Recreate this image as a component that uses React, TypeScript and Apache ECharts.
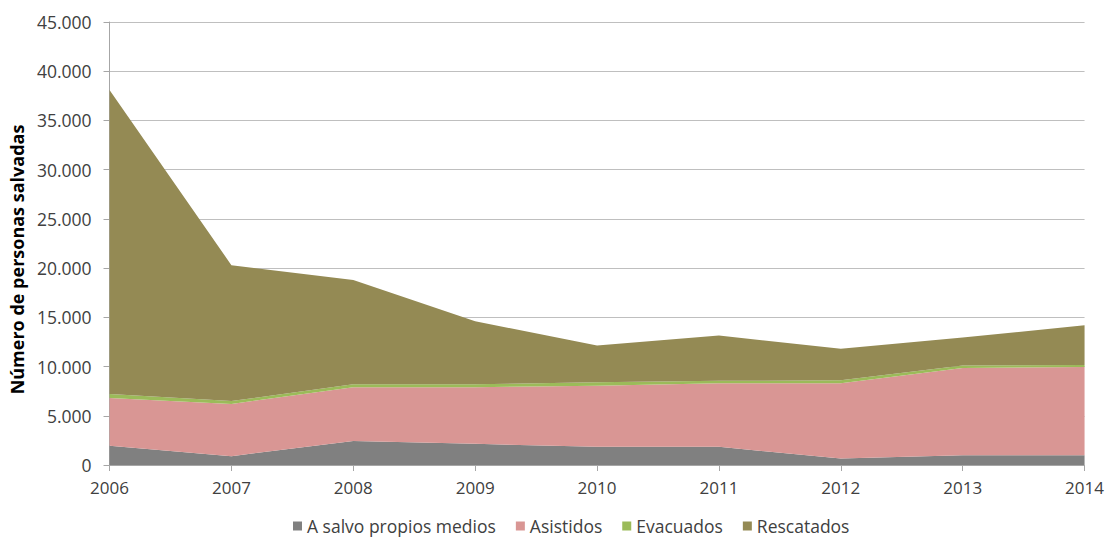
import React, { useEffect, useRef } from "react";
import * as echarts from "echarts";

const years = ["2006", "2007", "2008", "2009", "2010", "2011", "2012", "2013", "2014"];
const aSalvo = [1950, 900, 2450, 2150, 1850, 1850, 650, 1000, 1000];
const asistidos = [4850, 5300, 5450, 5750, 6200, 6450, 7650, 8850, 8950];
const evacuados = [400, 300, 300, 300, 350, 250, 300, 250, 200];
const rescatados = [30900, 13800, 10600, 6400, 3750, 4600, 3200, 2850, 4050];

const names = ["A salvo propios medios", "Asistidos", "Evacuados", "Rescatados"];
const colors = ["#808080", "#d99694", "#9bbb59", "#948a54"];
const seriesData = [aSalvo, asistidos, evacuados, rescatados];

const FONT = "'Open Sans', Lato, sans-serif";

function fmt(v: number): string {
  return String(v).replace(/\B(?=(\d{3})+(?!\d))/g, ".");
}

export default function App() {
  const ref = useRef<HTMLDivElement>(null);
  useEffect(() => {
    if (!ref.current) return;
    const chart = echarts.init(ref.current, null, { renderer: "svg" });
    chart.setOption({
      animation: false,
      textStyle: { fontFamily: FONT },
      grid: { left: 107, right: 21, top: 22, bottom: 74 },
      legend: {
        top: 512,
        left: 288,
        itemWidth: 9,
        itemHeight: 9,
        itemGap: 20,
        icon: "rect",
        textStyle: { fontSize: 17.5, color: "#404040", fontFamily: FONT },
        data: names,
      },
      xAxis: {
        type: "category",
        data: years,
        boundaryGap: false,
        axisLine: { lineStyle: { color: "#a6a6a6" } },
        axisTick: { alignWithLabel: true, length: 6, lineStyle: { color: "#a6a6a6" } },
        axisLabel: { fontSize: 17, color: "#404040", margin: 14, fontFamily: FONT },
      },
      yAxis: {
        type: "value",
        min: 0,
        max: 45000,
        interval: 5000,
        name: "Número de personas salvadas",
        nameLocation: "middle",
        nameGap: 82,
        nameRotate: 90,
        nameTextStyle: {
          fontSize: 18,
          fontWeight: "bold",
          color: "#000",
          fontFamily: FONT,
          padding: [0, 32, 0, 0],
        },
        axisLine: { show: true, lineStyle: { color: "#a6a6a6" } },
        axisTick: { show: true, length: 6, lineStyle: { color: "#a6a6a6" } },
        splitLine: { lineStyle: { color: "#bfbfbf" } },
        axisLabel: {
          fontSize: 17.5,
          color: "#404040",
          margin: 18,
          fontFamily: FONT,
          formatter: (v: number) => fmt(v),
        },
      },
      series: seriesData.map((d, i) => ({
        name: names[i],
        type: "line",
        stack: "total",
        data: d,
        symbol: "none",
        lineStyle: { width: 0 },
        itemStyle: { color: colors[i] },
        areaStyle: { color: colors[i], opacity: 1 },
      })),
    });
    return () => chart.dispose();
  }, []);
  return <div ref={ref} style={{ width: 1107, height: 539, position: "absolute", left: 0, top: 0 }} />;
}
